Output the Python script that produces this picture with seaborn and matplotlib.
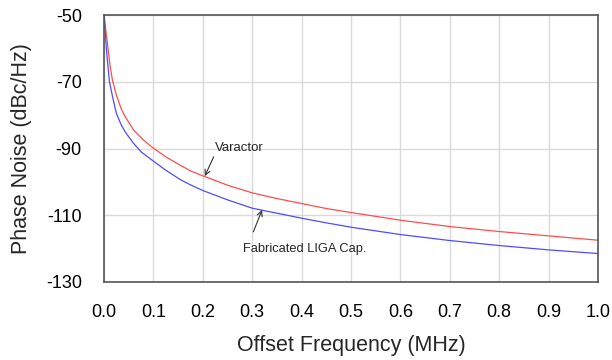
import matplotlib
matplotlib.use("Agg")
import matplotlib.pyplot as plt
from matplotlib.ticker import MultipleLocator
import pandas as pd
import seaborn as sns

# 값은 그림에서 읽은 추정치
varactor_x = [0.0, 0.004, 0.008, 0.012, 0.017, 0.025, 0.035, 0.043, 0.06, 0.08,
              0.1, 0.125, 0.154, 0.175, 0.2, 0.25, 0.3, 0.35, 0.4, 0.45,
              0.5, 0.6, 0.7, 0.8, 0.9, 1.0]
varactor_y = [-50, -55, -60, -65, -69.5, -74, -78.2, -80.5, -84.5, -87.5,
              -89.9, -92.5, -95.0, -96.7, -98.2, -101.0, -103.3, -105.0, -106.5, -108.0,
              -109.2, -111.5, -113.4, -114.9, -116.2, -117.5]

liga_x = [0.0, 0.0047, 0.0067, 0.011, 0.018, 0.025, 0.035, 0.045, 0.059, 0.075,
          0.1, 0.125, 0.154, 0.175, 0.2, 0.25, 0.3, 0.35, 0.4, 0.45,
          0.5, 0.6, 0.7, 0.8, 0.9, 1.0]
liga_y = [-50, -60, -63.5, -70, -75, -79.5, -83, -85.5, -88.3, -91,
          -93.8, -96.5, -99.3, -100.9, -102.6, -105.4, -107.9, -109.4, -110.9, -112.3,
          -113.6, -115.8, -117.6, -119.1, -120.4, -121.5]

x_ticks = [0.0, 0.1, 0.2, 0.3, 0.4, 0.5, 0.6, 0.7, 0.8, 0.9, 1.0]
y_ticks = [-130, -110, -90, -70, -50]

df = pd.concat([
    pd.DataFrame({"freq": varactor_x, "pn": varactor_y, "series": "Varactor"}),
    pd.DataFrame({"freq": liga_x, "pn": liga_y, "series": "Fabricated LIGA Cap."}),
])

sns.set_style("white")
plt.rcParams["font.family"] = ["Liberation Sans", "DejaVu Sans"]

fig = plt.figure(figsize=(6.12, 3.6), dpi=100)
ax = fig.add_axes([0.170, 0.217, 0.807, 0.741])

sns.lineplot(data=df, x="freq", y="pn", hue="series",
             palette={"Varactor": "#ff4d4d", "Fabricated LIGA Cap.": "#4d4dff"},
             linewidth=0.9, legend=False, sort=False, ax=ax)

ax.set_xlim(0, 1.0)
ax.set_ylim(-130, -50)
ax.set_xticks(x_ticks)
ax.set_xticklabels([f"{v:.1f}" for v in x_ticks])
ax.set_yticks(y_ticks)
ax.set_yticklabels([str(v) for v in y_ticks])
ax.xaxis.set_minor_locator(MultipleLocator(0.05))
ax.yaxis.set_minor_locator(MultipleLocator(10))

ax.grid(True, which="major", color="#dadada", linewidth=1.0)
ax.tick_params(axis="both", which="major", length=14, width=1, color="#333333",
               labelsize=13, labelcolor="black", pad=2, direction="out")
ax.tick_params(axis="both", which="minor", length=7, width=1, color="#555555",
               direction="out")
for s in ax.spines.values():
    s.set_color("#555555")
    s.set_linewidth(1.2)

ax.set_xlabel("Offset Frequency (MHz)", fontsize=15.5, labelpad=10)
ax.set_ylabel("Phase Noise (dBc/Hz)", fontsize=15.5, labelpad=10)

ax.annotate("Varactor", xy=(0.204, -98.3), xytext=(0.225, -91.5),
            fontsize=9.5, ha="left", va="bottom",
            arrowprops=dict(arrowstyle="->", color="#333333", lw=0.8,
                            shrinkA=0, shrinkB=0, relpos=(0.0, 0.0)))
ax.annotate("Fabricated LIGA Cap.", xy=(0.32, -108.4), xytext=(0.281, -120.1),
            fontsize=9.3, ha="left", va="center",
            arrowprops=dict(arrowstyle="->", color="#333333", lw=0.8,
                            shrinkA=6, shrinkB=0, relpos=(0.05, 1.0)))

fig.savefig("out.png", dpi=100)
